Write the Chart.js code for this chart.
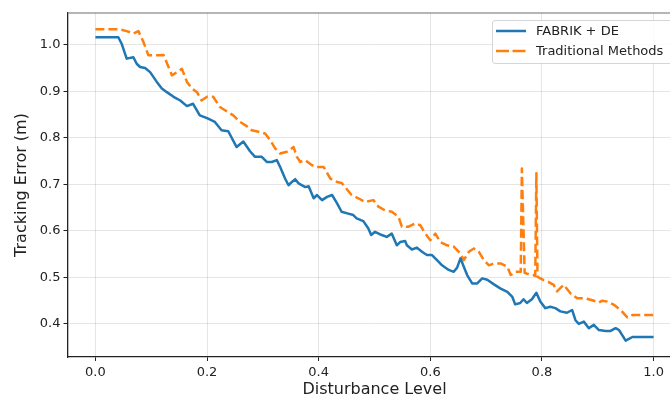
<!DOCTYPE html>
<html>
<head>
<meta charset="utf-8">
<script src="https://cdn.jsdelivr.net/npm/chart.js@4.4.1/dist/chart.umd.min.js"></script>
<style>
    html, body { margin: 0; padding: 0; background: #fff; overflow: hidden; }
    #wrap { position: relative; width: 700px; height: 400px; }
    #legend {
        position: absolute; left: 492px; top: 20px; width: 183px; height: 42px;
        border: 1px solid #d6d6d6; border-radius: 3px; background: rgba(255,255,255,0.85);
        font-family: 'DejaVu Sans', sans-serif; font-size: 13px; color: #222;
    }
    .legend-row { position: absolute; left: 0; height: 16px; line-height: 16px; white-space: nowrap; }
    .legend-row svg { position: absolute; left: 3px; top: 3px; }
    .legend-row span { position: absolute; left: 43px; top: 0; }
</style>
</head>
<body>
<div id="wrap">
    <canvas id="chart" width="700" height="400"></canvas>
    <div id="legend"></div>
</div>
<script>
// FABRIK + DE (blue, solid)
const fabrikX = [0, 0.041, 0.047, 0.056, 0.068, 0.074, 0.080, 0.089, 0.098, 0.110, 0.119, 0.128, 0.140, 0.152, 0.164, 0.175, 0.187, 0.200,
    0.214, 0.226, 0.238, 0.253, 0.265, 0.277, 0.286, 0.298, 0.307, 0.316, 0.325, 0.331, 0.340, 0.346, 0.352, 0.358, 0.364, 0.376, 0.382,
    0.391, 0.397, 0.406, 0.415, 0.424, 0.433, 0.441, 0.453, 0.462, 0.468, 0.480, 0.489, 0.494, 0.501, 0.513, 0.522, 0.531, 0.540, 0.546,
    0.555, 0.558, 0.567, 0.576, 0.585, 0.594, 0.603, 0.612, 0.621, 0.633, 0.642, 0.648, 0.654, 0.660, 0.666, 0.675, 0.684, 0.693, 0.702,
    0.714, 0.726, 0.738, 0.747, 0.752, 0.761, 0.767, 0.773, 0.782, 0.790, 0.797, 0.806, 0.815, 0.824, 0.833, 0.845, 0.854, 0.860, 0.866,
    0.875, 0.884, 0.893, 0.902, 0.914, 0.923, 0.932, 0.938, 0.950, 0.962, 1.0];
const fabrikY = [1.016, 1.016, 1.002, 0.970, 0.973, 0.959, 0.952, 0.950, 0.941, 0.920, 0.906, 0.898, 0.888, 0.880, 0.868, 0.873, 0.848, 0.842,
    0.834, 0.816, 0.814, 0.780, 0.792, 0.771, 0.759, 0.759, 0.748, 0.748, 0.752, 0.737, 0.712, 0.698, 0.705, 0.711, 0.702, 0.694, 0.696,
    0.670, 0.677, 0.666, 0.673, 0.677, 0.659, 0.641, 0.637, 0.634, 0.627, 0.621, 0.605, 0.591, 0.598, 0.591, 0.587, 0.594, 0.569, 0.576,
    0.578, 0.569, 0.560, 0.564, 0.555, 0.548, 0.548, 0.537, 0.526, 0.516, 0.512, 0.521, 0.541, 0.523, 0.505, 0.487, 0.487, 0.498, 0.495,
    0.485, 0.476, 0.469, 0.458, 0.442, 0.445, 0.453, 0.445, 0.453, 0.467, 0.448, 0.434, 0.437, 0.434, 0.427, 0.424, 0.430, 0.408, 0.400,
    0.405, 0.391, 0.398, 0.387, 0.385, 0.385, 0.391, 0.387, 0.364, 0.372, 0.372];

// Traditional Methods (orange, dashed)
const tradX = [0, 0.044, 0.056, 0.068, 0.077, 0.086, 0.095, 0.110, 0.122, 0.131, 0.137, 0.146, 0.155, 0.164, 0.173, 0.182, 0.190, 0.200,
    0.211, 0.223, 0.235, 0.247, 0.259, 0.271, 0.280, 0.292, 0.304, 0.313, 0.322, 0.331, 0.343, 0.355, 0.361, 0.367, 0.376, 0.388, 0.397,
    0.409, 0.421, 0.433, 0.441, 0.450, 0.459, 0.471, 0.483, 0.498, 0.507, 0.519, 0.531, 0.543, 0.549, 0.561, 0.573, 0.582, 0.591, 0.600,
    0.609, 0.618, 0.630, 0.642, 0.654, 0.660, 0.669, 0.678, 0.687, 0.696, 0.705, 0.714, 0.726, 0.738, 0.744, 0.753, 0.762, 0.764, 0.769,
    0.773, 0.785, 0.788, 0.790, 0.792, 0.803, 0.812, 0.821, 0.827, 0.839, 0.851, 0.863, 0.878, 0.890, 0.902, 0.908, 0.917, 0.929, 0.941,
    0.953, 0.962, 1.0];
const tradY = [1.033, 1.033, 1.029, 1.024, 1.029, 1.006, 0.977, 0.977, 0.978, 0.952, 0.934, 0.941, 0.948, 0.920, 0.906, 0.898, 0.880, 0.888,
    0.888, 0.866, 0.857, 0.848, 0.834, 0.825, 0.816, 0.813, 0.809, 0.795, 0.777, 0.766, 0.770, 0.780, 0.759, 0.748, 0.752, 0.741, 0.737,
    0.737, 0.712, 0.705, 0.703, 0.690, 0.677, 0.670, 0.662, 0.666, 0.652, 0.644, 0.641, 0.630, 0.609, 0.609, 0.616, 0.612, 0.594, 0.580,
    0.594, 0.576, 0.569, 0.566, 0.551, 0.537, 0.555, 0.562, 0.555, 0.537, 0.526, 0.530, 0.530, 0.523, 0.505, 0.512, 0.512, 0.734, 0.510,
    0.508, 0.505, 0.503, 0.724, 0.501, 0.494, 0.490, 0.484, 0.470, 0.484, 0.466, 0.455, 0.455, 0.451, 0.446, 0.450, 0.448, 0.441, 0.430,
    0.414, 0.419, 0.419];

const xTicks = [0, 0.2, 0.4, 0.6, 0.8, 1.0];
const yTicks = [0.4, 0.5, 0.6, 0.7, 0.8, 0.9, 1.0];

const seriesNames = ['FABRIK + DE', 'Traditional Methods'];
const seriesColors = ['#1f77b4', '#ff7f0e'];

const FONT = "'DejaVu Sans', sans-serif";
Chart.defaults.font.family = FONT;
Chart.defaults.color = '#222';

function toPoints(xs, ys) {
    return xs.map((x, i) => ({ x: x, y: ys[i] }));
}

// gray frame on the top and right sides of the plot
const frame = {
    id: 'frame',
    afterDraw(chart) {
        const { ctx, chartArea: a } = chart;
        ctx.save();
        ctx.strokeStyle = '#6e6e6e';
        ctx.lineWidth = 1.2;
        ctx.beginPath();
        ctx.moveTo(a.left, a.top);
        ctx.lineTo(a.right, a.top);
        ctx.lineTo(a.right, a.bottom);
        ctx.stroke();
        ctx.restore();
    }
};

const gridOpts = {
    color: 'rgba(0,0,0,0.1)',
    lineWidth: 1,
    tickColor: '#222',
    tickLength: 4
};

new Chart(document.getElementById('chart'), {
    type: 'line',
    data: {
        datasets: [
            {
                label: seriesNames[0],
                data: toPoints(fabrikX, fabrikY),
                borderColor: seriesColors[0],
                borderWidth: 2.5,
                borderJoinStyle: 'round',
                pointRadius: 0,
                tension: 0
            },
            {
                label: seriesNames[1],
                data: toPoints(tradX, tradY),
                borderColor: seriesColors[1],
                borderWidth: 2.5,
                borderDash: [9, 4],
                borderCapStyle: 'butt',
                borderJoinStyle: 'round',
                pointRadius: 0,
                tension: 0
            }
        ]
    },
    options: {
        responsive: false,
        animation: false,
        layout: { padding: { top: 13, right: 18.5, left: 0, bottom: 0 } },
        plugins: {
            legend: { display: false },
            tooltip: { enabled: false }
        },
        scales: {
            x: {
                type: 'linear',
                min: -0.05,
                max: 1.05,
                afterBuildTicks: s => { s.ticks = xTicks.map(v => ({ value: v })); },
                afterFit: s => { s.height = 43; },
                ticks: {
                    font: { size: 13 },
                    padding: 4,
                    maxRotation: 0,
                    callback: v => v.toFixed(1)
                },
                grid: gridOpts,
                border: { color: '#222', width: 1.3 },
                title: {
                    display: true,
                    text: 'Disturbance Level',
                    font: { size: 16 },
                    padding: { top: 0, bottom: 1 }
                }
            },
            y: {
                min: 0.329,
                max: 1.068,
                afterBuildTicks: s => { s.ticks = yTicks.map(v => ({ value: v })); },
                afterFit: s => { s.width = 67.5; },
                ticks: {
                    font: { size: 13 },
                    padding: 3,
                    callback: v => v.toFixed(1)
                },
                grid: gridOpts,
                border: { color: '#222', width: 1.3 },
                title: {
                    display: true,
                    text: 'Tracking Error (m)',
                    font: { size: 16 },
                    padding: { top: 12, bottom: 0 }
                }
            }
        }
    },
    plugins: [frame]
});

// HTML legend, matplotlib style (upper right)
const legend = document.getElementById('legend');
seriesNames.forEach((name, i) => {
    const dash = i === 1 ? 'stroke-dasharray="13,3.5"' : '';
    const row = document.createElement('div');
    row.className = 'legend-row';
    row.style.top = (i * 20 + 2) + 'px';
    row.innerHTML =
        `<svg width="30" height="10"><line x1="0" y1="5" x2="30" y2="5" stroke="${seriesColors[i]}" stroke-width="2.5" ${dash}/></svg>` +
        `<span>${name}</span>`;
    legend.appendChild(row);
});
</script>
</body>
</html>
